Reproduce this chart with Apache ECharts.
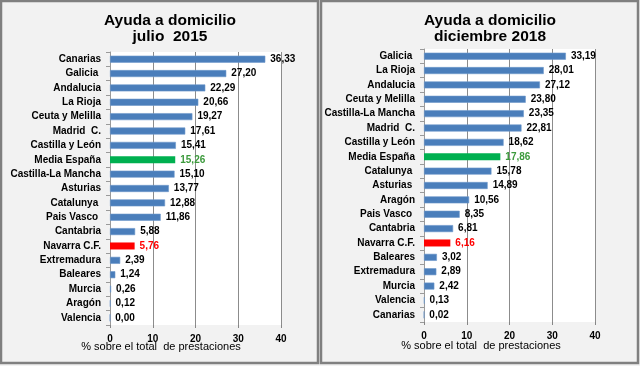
<!DOCTYPE html>
<html>
<head>
<meta charset="utf-8">
<script src="https://cdn.jsdelivr.net/npm/echarts@6/dist/echarts.min.js"></script>
<style>
html,body{margin:0;padding:0;background:#f2f2f2;}
#c{width:640px;height:366px;}
</style>
</head>
<body>
<div id="c"></div>
<script>
// Left chart: julio 2015
var cats2015 = ["Canarias","Galicia ","Andalucia","La Rioja","Ceuta y Melilla","Madrid  C.","Castilla y León","Media España","Castilla-La Mancha","Asturias","Catalunya ","Pais Vasco ","Cantabria","Navarra C.F.","Extremadura","Baleares","Murcia","Aragón","Valencia"];
var vals2015 = [36.33,27.20,22.29,20.66,19.27,17.61,15.41,15.26,15.10,13.77,12.88,11.86,5.88,5.76,2.39,1.24,0.26,0.12,0.00];
// Right chart: diciembre 2018
var cats2018 = ["Galicia ","La Rioja","Andalucia","Ceuta y Melilla","Castilla-La Mancha","Madrid  C.","Castilla y León","Media España","Catalunya ","Asturias ","Aragón","Pais Vasco ","Cantabria","Navarra C.F.","Baleares","Extremadura","Murcia","Valencia","Canarias"];
var vals2018 = [33.19,28.01,27.12,23.80,23.35,22.81,18.62,17.86,15.78,14.89,10.56,8.35,6.81,6.16,3.02,2.89,2.42,0.13,0.02];
var xTicks = [0,10,20,30,40];

var BLUE = '#4a7ebb', GREEN = '#00b050', RED = '#ff0000';
function styled(cats, vals){
  return vals.map(function(v,i){
    var c = cats[i].trim();
    var col = BLUE, lc = '#000';
    if (c === 'Media España') { col = GREEN; lc = '#3c9a3c'; }
    if (c === 'Navarra C.F.') { col = RED; lc = RED; }
    return { value: v, itemStyle: { color: col, borderColor: col === BLUE ? '#6f98cb' : col, borderWidth: col === BLUE ? 0.6 : 0 },
             label: { color: lc } };
  });
}
function fmt(p){ return p.value.toFixed(2).replace('.', ','); }

var chart = echarts.init(document.getElementById('c'), null, {renderer:'canvas'});
function yAx(gi, cats){
  return { type:'category', gridIndex: gi, data: cats, inverse: true, zlevel: 1,
    axisLine:{ show:true, lineStyle:{ color:'#9a9a9a', width:1 } },
    axisTick:{ show:true, length:4, lineStyle:{ color:'#9a9a9a' } },
    axisLabel:{ color:'#000', fontFamily:'Liberation Sans, Arial', fontWeight:'bold', fontSize:10, margin:9 } };
}
function xAx(gi){
  return { type:'value', gridIndex: gi, min:0, max:40, interval:10, zlevel: 1,
    axisLine:{ show:false }, axisTick:{ show:true, length:3, lineStyle:{ color:'#868686' } },
    splitLine:{ show:true, showMinLine:false, showMaxLine:true, lineStyle:{ color:'#8c8c8c', width:1, type:'solid' } },
    axisLabel:{ color:'#000', fontFamily:'Liberation Sans, Arial', fontWeight:'bold', fontSize:10, margin:9 } };
}
function ser(gi, cats, vals){
  return { type:'bar', xAxisIndex: gi, yAxisIndex: gi, data: styled(cats, vals), barWidth: 7, zlevel: 1,
    label:{ show:true, position:'right', distance:5, formatter: fmt, fontFamily:'Liberation Sans, Arial', fontWeight:'bold', fontSize:10 },
    animation:false };
}
var tStyle = { color:'#000', fontFamily:'Liberation Sans, Arial', fontWeight:'bold', fontSize:15.5, lineHeight:16 };
var nStyle = { fill:'#000', font:'11px "Liberation Sans", Arial', textAlign:'center', textVerticalAlign:'middle' };

chart.setOption({
  backgroundColor:'#f2f2f2',
  animation:false,
  title:[
    { text:'Ayuda a domicilio\njulio  2015', left:165, top:8, textAlign:'center', textStyle:tStyle, zlevel:1 },
    { text:'Ayuda a domicilio\ndiciembre 2018', left:485, top:8, textAlign:'center', textStyle:tStyle, zlevel:1 }
  ],
  grid:[
    { left:110, top:52, width:171, height:273, show:false },
    { left:424, top:49, width:171, height:273, show:false }
  ],
  xAxis:[ xAx(0), xAx(1) ],
  yAxis:[ yAx(0, cats2015), yAx(1, cats2018) ],
  series:[ ser(0, cats2015, vals2015), ser(1, cats2018, vals2018) ],
  graphic:{
    zlevel: 0,
    elements:[
      { type:'rect', zlevel:0, shape:{ x:110, y:52, width:171, height:273 }, style:{ fill:'#ffffff' }, silent:true },
      { type:'rect', zlevel:0, shape:{ x:424, y:49, width:171, height:273 }, style:{ fill:'#ffffff' }, silent:true },
      { type:'rect', zlevel:0, shape:{ x:1, y:1, width:317, height:362 }, style:{ fill:'none', stroke:'#808080', lineWidth:2.5 }, silent:true },
      { type:'rect', zlevel:0, shape:{ x:321, y:1, width:317, height:362 }, style:{ fill:'none', stroke:'#808080', lineWidth:2.5 }, silent:true },
      { type:'text', zlevel:0, x:161, y:347, style: Object.assign({ text:'% sobre el total  de prestaciones' }, nStyle), silent:true },
      { type:'text', zlevel:0, x:481, y:346, style: Object.assign({ text:'% sobre el total  de prestaciones' }, nStyle), silent:true }
    ]
  }
});
</script>
</body>
</html>
